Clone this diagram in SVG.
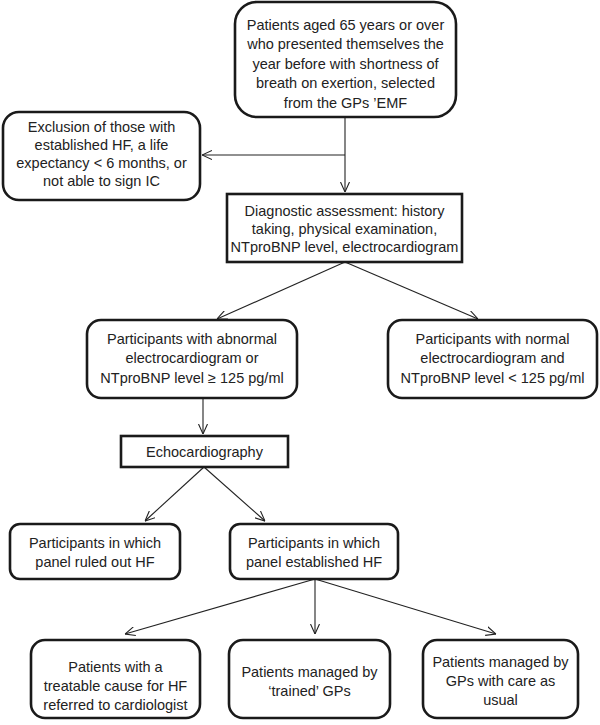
<svg xmlns="http://www.w3.org/2000/svg" width="600" height="725" viewBox="0 0 600 725">
<style>
.box{fill:#fff;stroke:#1a1a1a;stroke-width:2.6}
.t{font-family:"Liberation Sans",Arial,sans-serif;font-size:14.5px;fill:#222;text-anchor:middle}
.c{fill:none;stroke:#222;stroke-width:1.1;marker-end:url(#ah)}
</style>
<defs>
<marker id="ah" viewBox="0 0 10 10" refX="10" refY="5" markerWidth="10" markerHeight="10" markerUnits="userSpaceOnUse" orient="auto">
<path d="M0,0.5 L10,5 L0,9.5" fill="none" stroke="#222" stroke-width="1.1"/>
</marker>
</defs>
<rect width="600" height="725" fill="#fff"/>
<g id="connectors">
<path class="c" d="M345,117 V192"/>
<path class="c" d="M345,155 H202"/>
<path class="c" d="M345,262 L217,319"/>
<path class="c" d="M345,262 L478,319"/>
<path class="c" d="M203,398 V434"/>
<path class="c" d="M204,467 L145,521"/>
<path class="c" d="M204,467 L265,521"/>
<path class="c" d="M315,579 L125,634"/>
<path class="c" d="M315,579 V634"/>
<path class="c" d="M315,579 L496,634"/>
</g>
<g id="n1">
<rect class="box" x="235" y="2" width="221" height="115" rx="22"/>
<text class="t" x="345.5" y="30">Patients aged 65 years or over</text>
<text class="t" x="345.5" y="49">who presented themselves the</text>
<text class="t" x="345.5" y="69">year before with shortness of</text>
<text class="t" x="345.5" y="88">breath on exertion, selected</text>
<text class="t" x="345.5" y="108">from the GPs ’EMF</text>
</g>
<g id="n2">
<rect class="box" x="3" y="112" width="197" height="88" rx="16"/>
<text class="t" x="101.5" y="132">Exclusion of those with</text>
<text class="t" x="101.5" y="150">established HF, a life</text>
<text class="t" x="101.5" y="168">expectancy &lt; 6 months, or</text>
<text class="t" x="101.5" y="186">not able to sign IC</text>
</g>
<g id="n3">
<rect class="box" x="227" y="194" width="235" height="68"/>
<text class="t" x="344.5" y="216">Diagnostic assessment: history</text>
<text class="t" x="344.5" y="234">taking, physical examination,</text>
<text class="t" x="344.5" y="252">NTproBNP level, electrocardiogram</text>
</g>
<g id="n4">
<rect class="box" x="87" y="320" width="210" height="78" rx="14"/>
<text class="t" x="192" y="344">Participants with abnormal</text>
<text class="t" x="192" y="363">electrocardiogram or</text>
<text class="t" x="192" y="383">NTproBNP level ≥ 125 pg/ml</text>
</g>
<g id="n5">
<rect class="box" x="388" y="320" width="209" height="78" rx="14"/>
<text class="t" x="492.5" y="344">Participants with normal</text>
<text class="t" x="492.5" y="363">electrocardiogram and</text>
<text class="t" x="492.5" y="383">NTproBNP level &lt; 125 pg/ml</text>
</g>
<g id="n6">
<rect class="box" x="121" y="436" width="167" height="31"/>
<text class="t" x="204.5" y="457">Echocardiography</text>
</g>
<g id="n7">
<rect class="box" x="10" y="524" width="170" height="55" rx="10"/>
<text class="t" x="95" y="548">Participants in which</text>
<text class="t" x="95" y="567">panel ruled out HF</text>
</g>
<g id="n8">
<rect class="box" x="230" y="524" width="168" height="55" rx="10"/>
<text class="t" x="314" y="548">Participants in which</text>
<text class="t" x="314" y="567">panel established HF</text>
</g>
<g id="n9">
<rect class="box" x="31" y="640" width="169" height="78" rx="14"/>
<text class="t" x="115.5" y="672">Patients with a</text>
<text class="t" x="115.5" y="691">treatable cause for HF</text>
<text class="t" x="115.5" y="710">referred to cardiologist</text>
</g>
<g id="n10">
<rect class="box" x="229" y="640" width="161" height="78" rx="14"/>
<text class="t" x="309.5" y="677">Patients managed by</text>
<text class="t" x="309.5" y="696">‘trained’ GPs</text>
</g>
<g id="n11">
<rect class="box" x="423" y="640" width="155" height="78" rx="14"/>
<text class="t" x="500.5" y="667">Patients managed by</text>
<text class="t" x="500.5" y="686">GPs with care as</text>
<text class="t" x="500.5" y="705">usual</text>
</g>
</svg>
